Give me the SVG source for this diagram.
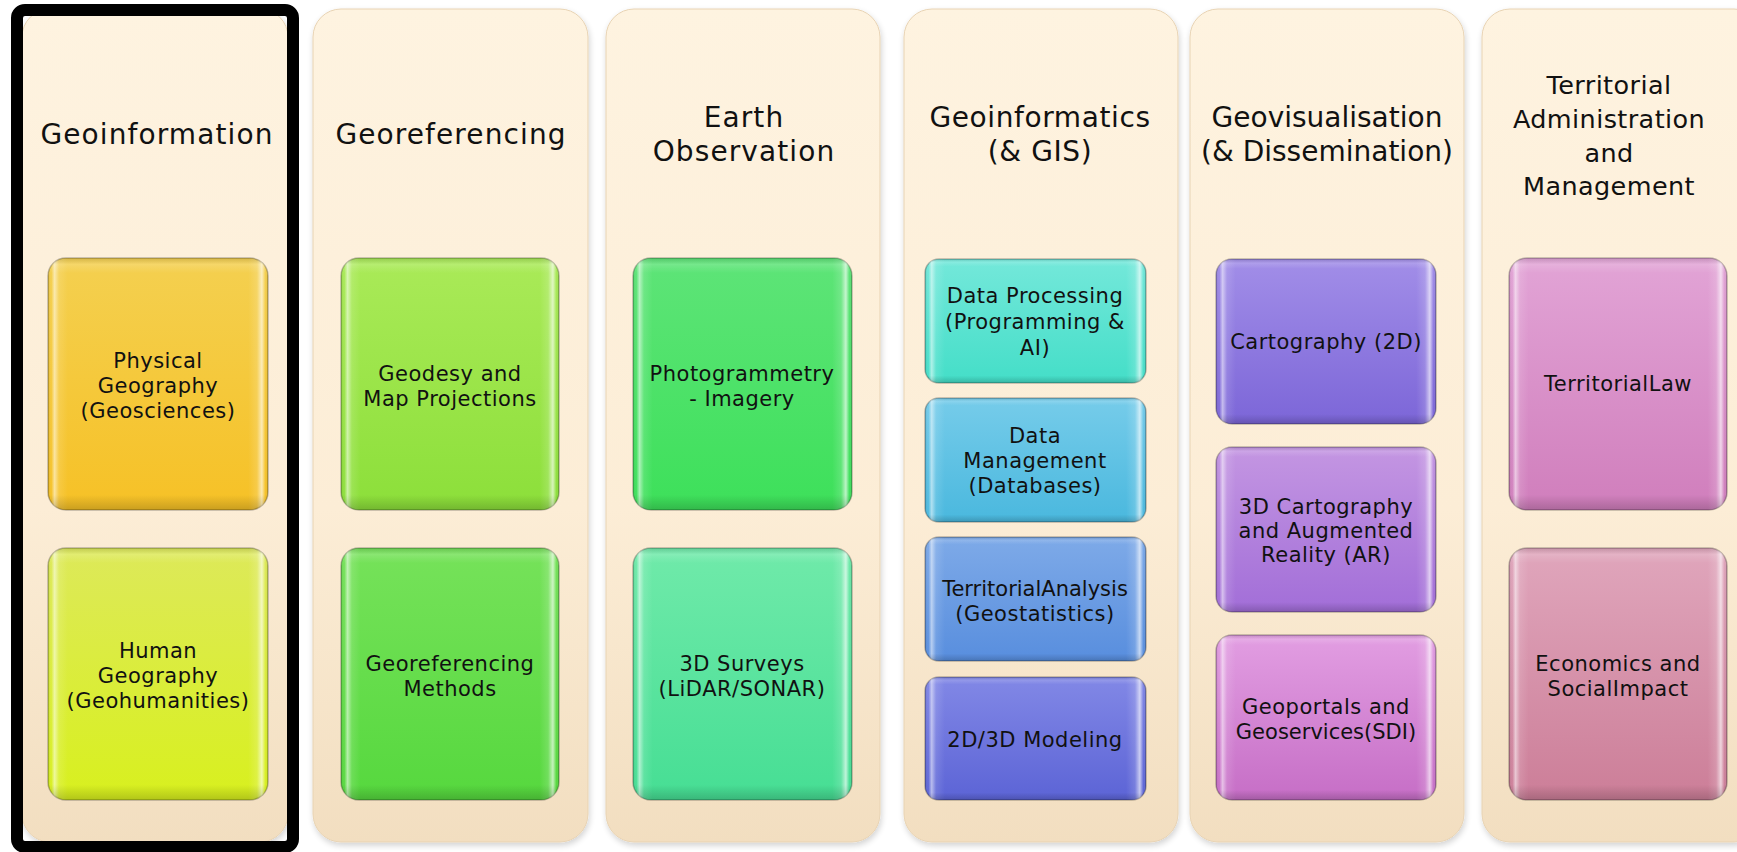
<svg xmlns="http://www.w3.org/2000/svg" width="1737" height="852" viewBox="0 0 1737 852">
<style>
.col{fill:url(#colG);stroke:#E8D3B3;stroke-width:1;filter:url(#sh)}
.hdr{font-family:"DejaVu Sans","Liberation Sans",sans-serif;font-size:28px;fill:#111;text-anchor:middle;letter-spacing:0.6px}
.hdr.w{letter-spacing:1.1px}
.hdr.n{letter-spacing:0}
.hdr.s{font-size:25.5px;letter-spacing:0.4px}
.lbl{font-family:"DejaVu Sans","Liberation Sans",sans-serif;font-size:21px;fill:#111;text-anchor:middle;letter-spacing:0.5px}
.bx{stroke:#000;stroke-opacity:0.25;stroke-width:1.5}
.bev{fill:url(#bevH)}
.bevv{fill:url(#bevV)}
</style>
<defs>
<filter id="sh" x="-5%" y="-5%" width="110%" height="110%">
<feGaussianBlur in="SourceAlpha" stdDeviation="3"/>
<feOffset dx="1" dy="3" result="b"/>
<feComponentTransfer><feFuncA type="linear" slope="0.18"/></feComponentTransfer>
<feMerge><feMergeNode/><feMergeNode in="SourceGraphic"/></feMerge>
</filter>
<linearGradient id="colG" x1="0" y1="0" x2="0" y2="1">
<stop offset="0" stop-color="#FEF3E0"/><stop offset="0.6" stop-color="#FCEDD6"/><stop offset="1" stop-color="#F2DEC0"/>
</linearGradient>
<linearGradient id="bevH" x1="0" y1="0" x2="1" y2="0">
<stop offset="0" stop-color="#000" stop-opacity="0.14"/>
<stop offset="0.015" stop-color="#fff" stop-opacity="0"/>
<stop offset="0.03" stop-color="#fff" stop-opacity="0.55"/>
<stop offset="0.05" stop-color="#fff" stop-opacity="0.12"/>
<stop offset="0.09" stop-color="#fff" stop-opacity="0"/>
<stop offset="0.91" stop-color="#fff" stop-opacity="0"/>
<stop offset="0.95" stop-color="#fff" stop-opacity="0.15"/>
<stop offset="0.972" stop-color="#fff" stop-opacity="0.65"/>
<stop offset="0.988" stop-color="#fff" stop-opacity="0"/>
<stop offset="1" stop-color="#000" stop-opacity="0.16"/>
</linearGradient>
<linearGradient id="bevV" x1="0" y1="0" x2="0" y2="1">
<stop offset="0" stop-color="#000" stop-opacity="0.12"/>
<stop offset="0.025" stop-color="#fff" stop-opacity="0.15"/>
<stop offset="0.06" stop-color="#fff" stop-opacity="0"/>
<stop offset="0.94" stop-color="#000" stop-opacity="0"/>
<stop offset="1" stop-color="#000" stop-opacity="0.18"/>
</linearGradient>
<linearGradient id="g1" x1="0" y1="0" x2="0" y2="1"><stop offset="0" stop-color="#F4D050"/><stop offset="1" stop-color="#F6C126"/></linearGradient>
<linearGradient id="g2" x1="0" y1="0" x2="0" y2="1"><stop offset="0" stop-color="#DDE95A"/><stop offset="1" stop-color="#D8F01E"/></linearGradient>
<linearGradient id="g3" x1="0" y1="0" x2="0" y2="1"><stop offset="0" stop-color="#AAEA58"/><stop offset="1" stop-color="#8CDF3A"/></linearGradient>
<linearGradient id="g4" x1="0" y1="0" x2="0" y2="1"><stop offset="0" stop-color="#76E25A"/><stop offset="1" stop-color="#56D83E"/></linearGradient>
<linearGradient id="g5" x1="0" y1="0" x2="0" y2="1"><stop offset="0" stop-color="#5EE478"/><stop offset="1" stop-color="#3DE05A"/></linearGradient>
<linearGradient id="g6" x1="0" y1="0" x2="0" y2="1"><stop offset="0" stop-color="#70EAAA"/><stop offset="1" stop-color="#46DE94"/></linearGradient>
<linearGradient id="g7" x1="0" y1="0" x2="0" y2="1"><stop offset="0" stop-color="#74E8DA"/><stop offset="1" stop-color="#44DEC8"/></linearGradient>
<linearGradient id="g8" x1="0" y1="0" x2="0" y2="1"><stop offset="0" stop-color="#76CCEA"/><stop offset="1" stop-color="#4AB8DE"/></linearGradient>
<linearGradient id="g9" x1="0" y1="0" x2="0" y2="1"><stop offset="0" stop-color="#7EAAE8"/><stop offset="1" stop-color="#588EDE"/></linearGradient>
<linearGradient id="g10" x1="0" y1="0" x2="0" y2="1"><stop offset="0" stop-color="#8288E6"/><stop offset="1" stop-color="#5C64D6"/></linearGradient>
<linearGradient id="g11" x1="0" y1="0" x2="0" y2="1"><stop offset="0" stop-color="#A28EE8"/><stop offset="1" stop-color="#7C66D8"/></linearGradient>
<linearGradient id="g12" x1="0" y1="0" x2="0" y2="1"><stop offset="0" stop-color="#C496E2"/><stop offset="1" stop-color="#A26ED8"/></linearGradient>
<linearGradient id="g13" x1="0" y1="0" x2="0" y2="1"><stop offset="0" stop-color="#E29EE2"/><stop offset="1" stop-color="#C66EC6"/></linearGradient>
<linearGradient id="g14" x1="0" y1="0" x2="0" y2="1"><stop offset="0" stop-color="#E2A4D6"/><stop offset="1" stop-color="#D07EBC"/></linearGradient>
<linearGradient id="g15" x1="0" y1="0" x2="0" y2="1"><stop offset="0" stop-color="#E0A6BC"/><stop offset="1" stop-color="#CC7E98"/></linearGradient>
</defs>
<rect width="1737" height="852" fill="#fff"/>

<g id="col-geoinformation">
<rect class="col" x="22" y="9" width="266" height="833" rx="28"/>
<text class="hdr w" x="157" y="144">Geoinformation</text>
</g>
<g id="col-georeferencing">
<rect class="col" x="313" y="9" width="275" height="833" rx="28"/>
<text class="hdr w" x="451" y="144">Georeferencing</text>
</g>
<g id="col-earth-observation">
<rect class="col" x="606" y="9" width="274" height="833" rx="28"/>
<text class="hdr w" x="744" y="127">Earth</text>
<text class="hdr w" x="744" y="161">Observation</text>
</g>
<g id="col-geoinformatics">
<rect class="col" x="904" y="9" width="274" height="833" rx="28"/>
<text class="hdr" x="1040" y="127">Geoinformatics</text>
<text class="hdr" x="1040" y="161">(&amp; GIS)</text>
</g>
<g id="col-geovisualisation">
<rect class="col" x="1190" y="9" width="274" height="833" rx="28"/>
<text class="hdr n" x="1327" y="127">Geovisualisation</text>
<text class="hdr n" x="1327" y="161">(&amp; Dissemination)</text>
</g>
<g id="col-territorial">
<rect class="col" x="1482" y="9" width="280" height="833" rx="28"/>
<text class="hdr s" x="1609" y="94">Territorial</text>
<text class="hdr s" x="1609" y="128">Administration</text>
<text class="hdr s" x="1609" y="162">and</text>
<text class="hdr s" x="1609" y="195">Management</text>
</g>

<g id="frame">
<rect x="17" y="10" width="276" height="837" rx="8" fill="none" stroke="#000" stroke-width="12"/>
</g>

<g id="box-physical">
<rect class="bx" x="48" y="258" width="220" height="252" rx="18" fill="url(#g1)"/>
<rect class="bev" x="48" y="258" width="220" height="252" rx="18"/><rect class="bevv" x="48" y="258" width="220" height="252" rx="18"/>
<text class="lbl" x="158" y="368">Physical</text><text class="lbl" x="158" y="393">Geography</text><text class="lbl" x="158" y="418">(Geosciences)</text>
</g>
<g id="box-human">
<rect class="bx" x="48" y="548" width="220" height="252" rx="18" fill="url(#g2)"/>
<rect class="bev" x="48" y="548" width="220" height="252" rx="18"/><rect class="bevv" x="48" y="548" width="220" height="252" rx="18"/>
<text class="lbl" x="158" y="658">Human</text><text class="lbl" x="158" y="683">Geography</text><text class="lbl" x="158" y="708">(Geohumanities)</text>
</g>

<g id="box-geodesy">
<rect class="bx" x="341" y="258" width="218" height="252" rx="18" fill="url(#g3)"/>
<rect class="bev" x="341" y="258" width="218" height="252" rx="18"/><rect class="bevv" x="341" y="258" width="218" height="252" rx="18"/>
<text class="lbl" x="450" y="381">Geodesy and</text><text class="lbl" x="450" y="406">Map Projections</text>
</g>
<g id="box-georef-methods">
<rect class="bx" x="341" y="548" width="218" height="252" rx="18" fill="url(#g4)"/>
<rect class="bev" x="341" y="548" width="218" height="252" rx="18"/><rect class="bevv" x="341" y="548" width="218" height="252" rx="18"/>
<text class="lbl" x="450" y="671">Georeferencing</text><text class="lbl" x="450" y="696">Methods</text>
</g>

<g id="box-photogrammetry">
<rect class="bx" x="633" y="258" width="219" height="252" rx="18" fill="url(#g5)"/>
<rect class="bev" x="633" y="258" width="219" height="252" rx="18"/><rect class="bevv" x="633" y="258" width="219" height="252" rx="18"/>
<text class="lbl" x="742" y="381">Photogrammetry</text><text class="lbl" x="742" y="406">- Imagery</text>
</g>
<g id="box-3dsurveys">
<rect class="bx" x="633" y="548" width="219" height="252" rx="18" fill="url(#g6)"/>
<rect class="bev" x="633" y="548" width="219" height="252" rx="18"/><rect class="bevv" x="633" y="548" width="219" height="252" rx="18"/>
<text class="lbl" x="742" y="671">3D Surveys</text><text class="lbl" x="742" y="696">(LiDAR/SONAR)</text>
</g>

<g id="box-data-processing">
<rect class="bx" x="925" y="259" width="221" height="124" rx="14" fill="url(#g7)"/>
<rect class="bev" x="925" y="259" width="221" height="124" rx="14"/><rect class="bevv" x="925" y="259" width="221" height="124" rx="14"/>
<text class="lbl" x="1035" y="303">Data Processing</text><text class="lbl" x="1035" y="329">(Programming &amp;</text><text class="lbl" x="1035" y="355">AI)</text>
</g>
<g id="box-data-management">
<rect class="bx" x="925" y="398" width="221" height="124" rx="14" fill="url(#g8)"/>
<rect class="bev" x="925" y="398" width="221" height="124" rx="14"/><rect class="bevv" x="925" y="398" width="221" height="124" rx="14"/>
<text class="lbl" x="1035" y="443">Data</text><text class="lbl" x="1035" y="468">Management</text><text class="lbl" x="1035" y="493">(Databases)</text>
</g>
<g id="box-territorial-analysis">
<rect class="bx" x="925" y="537" width="221" height="124" rx="14" fill="url(#g9)"/>
<rect class="bev" x="925" y="537" width="221" height="124" rx="14"/><rect class="bevv" x="925" y="537" width="221" height="124" rx="14"/>
<text class="lbl" x="1035" y="596" style="letter-spacing:0">TerritorialAnalysis</text><text class="lbl" x="1035" y="621">(Geostatistics)</text>
</g>
<g id="box-modeling">
<rect class="bx" x="925" y="677" width="221" height="123" rx="14" fill="url(#g10)"/>
<rect class="bev" x="925" y="677" width="221" height="123" rx="14"/><rect class="bevv" x="925" y="677" width="221" height="123" rx="14"/>
<text class="lbl" x="1035" y="747">2D/3D Modeling</text>
</g>

<g id="box-cartography">
<rect class="bx" x="1216" y="259" width="220" height="165" rx="16" fill="url(#g11)"/>
<rect class="bev" x="1216" y="259" width="220" height="165" rx="16"/><rect class="bevv" x="1216" y="259" width="220" height="165" rx="16"/>
<text class="lbl" x="1326" y="349">Cartography (2D)</text>
</g>
<g id="box-3dcartography">
<rect class="bx" x="1216" y="447" width="220" height="165" rx="16" fill="url(#g12)"/>
<rect class="bev" x="1216" y="447" width="220" height="165" rx="16"/><rect class="bevv" x="1216" y="447" width="220" height="165" rx="16"/>
<text class="lbl" x="1326" y="514">3D Cartography</text><text class="lbl" x="1326" y="538">and Augmented</text><text class="lbl" x="1326" y="562">Reality (AR)</text>
</g>
<g id="box-geoportals">
<rect class="bx" x="1216" y="635" width="220" height="165" rx="16" fill="url(#g13)"/>
<rect class="bev" x="1216" y="635" width="220" height="165" rx="16"/><rect class="bevv" x="1216" y="635" width="220" height="165" rx="16"/>
<text class="lbl" x="1326" y="714">Geoportals and</text><text class="lbl" x="1326" y="739" style="letter-spacing:0">Geoservices(SDI)</text>
</g>

<g id="box-territorial-law">
<rect class="bx" x="1509" y="258" width="218" height="252" rx="18" fill="url(#g14)"/>
<rect class="bev" x="1509" y="258" width="218" height="252" rx="18"/><rect class="bevv" x="1509" y="258" width="218" height="252" rx="18"/>
<text class="lbl" x="1618" y="391">TerritorialLaw</text>
</g>
<g id="box-economics">
<rect class="bx" x="1509" y="548" width="218" height="252" rx="18" fill="url(#g15)"/>
<rect class="bev" x="1509" y="548" width="218" height="252" rx="18"/><rect class="bevv" x="1509" y="548" width="218" height="252" rx="18"/>
<text class="lbl" x="1618" y="671">Economics and</text><text class="lbl" x="1618" y="696">SocialImpact</text>
</g>

<g id="connectors"></g>
</svg>
